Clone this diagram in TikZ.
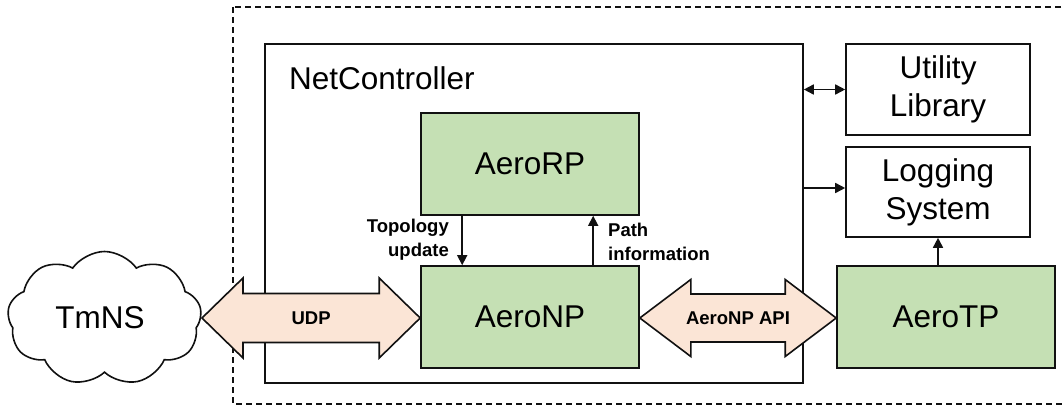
\documentclass[tikz,border=0pt]{standalone}
\usepackage{fontspec}
\setmainfont{Liberation Sans}
\usetikzlibrary{arrows.meta,calc,shapes.symbols}
\definecolor{boxgreen}{HTML}{C5E0B4}
\definecolor{peach}{HTML}{FBE5D6}
\definecolor{ink}{HTML}{111111}
\tikzset{
  big/.style={font=\fontsize{31.5}{38}\selectfont},
  small/.style={font=\bfseries\fontsize{18.5}{24}\selectfont},
  block/.style={draw=ink, line width=1.6pt, big, align=center, inner sep=0pt},
  greenblock/.style={block, fill=boxgreen, minimum width=218, minimum height=102},
  whiteblock/.style={block, fill=white, minimum width=184, minimum height=91},
  tip/.style={Triangle[length=10pt,width=10pt]},
  link/.style={draw=ink, line width=1.6pt, -{Triangle[length=10pt,width=10pt]}},
  fat/.style={draw=ink, line width=1.6pt, fill=peach, line join=miter},
}
% double-headed block arrow between two tip points
% #1 left tip, #2 right tip, #3 head length, #4 head half-height, #5 body half-height
\newcommand\blockarrow[5]{%
  \filldraw[fat] let \p1=(#1), \p2=(#2) in
    (\x1,\y1) -- ({\x1+#3},{\y1+#4}) -- ({\x1+#3},{\y1+#5})
    -- ({\x2-#3},{\y1+#5}) -- ({\x2-#3},{\y1+#4}) -- (\x2,\y1)
    -- ({\x2-#3},{\y1-#4}) -- ({\x2-#3},{\y1-#5})
    -- ({\x1+#3},{\y1-#5}) -- ({\x1+#3},{\y1-#4}) -- cycle;}
\begin{document}
\begin{tikzpicture}[x=1pt,y=-1pt]
\clip (0,0) rectangle (1062,409);
\fill[white] (0,0) rectangle (1062,409);

% outer dashed frame
\draw[ink, line width=1.5pt, dash pattern=on 6pt off 4pt] (233,7) rectangle (1070,404);

% NetController container
\node[draw=ink, line width=1.6pt, minimum width=538, minimum height=339, inner sep=0pt]
  (netctrl) at (534,213.5) {};
\node[big, anchor=west, inner sep=0pt] (nctitle) at (289,78) {NetController};

% blocks
\node[greenblock] (aerorp) at (530,164) {AeroRP};
\node[greenblock] (aeronp) at (530,317) {AeroNP};
\node[greenblock] (aerotp) at (946,317) {AeroTP};
\node[whiteblock] (utility) at (938,89.5) {Utility\\Library};
\node[whiteblock, minimum height=90] (logging) at (938,192) {Logging\\System};

% TmNS cloud
\node[cloud, draw=ink, line width=1.6pt, fill=white, cloud puffs=9, cloud puff arc=110,
  minimum width=194, minimum height=134, inner sep=0pt, big] (tmns) at (104.5,318.5) {};
\node[big, inner sep=0pt] (tmnslabel) at (100,318) {TmNS};

% internal connectors
\coordinate (topoA) at ($(aerorp.south west)+(42,0)$);
\coordinate (pathA) at ($(aeronp.north west)+(173,0)$);
\draw[link] (topoA) -- (topoA |- aeronp.north);
\draw[link] (pathA) -- (pathA |- aerorp.south);
\node[small, anchor=east, align=right, inner sep=0pt] (topolbl) at (449,240) {Topology\\update};
\node[small, anchor=west, align=left, inner sep=0pt] (pathlbl) at (608,242) {Path\\information};

% side connectors
\draw[link, {Triangle[length=10pt,width=10pt]}-{Triangle[length=10pt,width=10pt]}]
  (netctrl.east |- utility.west) -- (utility.west);
\coordinate (logA) at ($(logging.west)+(0,-4)$);
\draw[link] (netctrl.east |- logA) -- (logA);
\draw[link] (aerotp.north -| logging.south) -- (logging.south);

% block arrows
\coordinate (udpL) at (202,318);
\coordinate (udpR) at (aeronp.west |- udpL);
\blockarrow{udpL}{udpR}{41pt}{40pt}{24.5pt}
\node[small] (udplbl) at ($(udpL)!0.5!(udpR)$) {UDP};

\coordinate (apiL) at (aeronp.east |- udpL);
\coordinate (apiR) at (aerotp.west |- udpL);
\blockarrow{apiL}{apiR}{51pt}{38.5pt}{24pt}
\node[small] (apilbl) at ($(apiL)!0.5!(apiR)$) {AeroNP API};
\end{tikzpicture}
\end{document}
